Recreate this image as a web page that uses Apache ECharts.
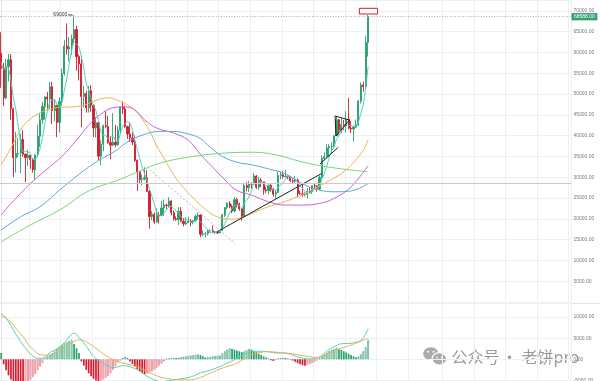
<!DOCTYPE html>
<html><head><meta charset="utf-8">
<script src="https://cdn.jsdelivr.net/npm/echarts@6/dist/echarts.min.js"></script>
<style>html,body{margin:0;padding:0;background:#fff}#c{width:600px;height:381px}</style>
</head><body><div id="c"></div>
<script>
// ---------- data ----------
const SLOTS = 235; // weekly slots on the time axis (data + empty future space)
const START = Date.UTC(2021, 3, 12);
const categories = Array.from({length: SLOTS}, (_, i) => new Date(START + i * 7 * 864e5).toISOString().slice(0, 10));
const quarterLines = [12, 25, 38, 51, 64, 77, 90, 103, 116, 129, 142, 155, 168, 182, 195, 208, 221, 234];

const opens = [59800,56150,49050,56600,58250,46430,34650,35680,35800,39100,
35500,34700,35290,34250,31780,35400,39850,43800,47000,49300,
48800,51750,46000,47250,43170,48200,54950,61530,60850,61300,
63270,65500,59000,57250,49400,50100,46700,50800,47300,41850,
43100,35050,37900,42400,42200,38350,37700,38400,37800,41300,
46850,46400,42150,40400,39450,38450,34050,31300,29450,29500,
29900,26600,20550,21050,19300,20850,20800,22600,23300,23200,
24300,21500,20000,19800,21800,19400,18800,19050,19450,19200,
19550,20600,20900,16300,16350,16450,17100,17150,16750,16850,
16600,17150,20900,22700,23750,22950,21850,24600,23500,22400,
20600,28000,27500,28450,28350,30300,27600,29250,28900,26900,
26750,28050,27100,25900,26350,30450,30600,30150,30250,30050,
29200,29050,29300,26100,26000,25850,25900,26550,26500,27950,
27900,27150,29950,34500,35000,37050,37350,37450,39950,43800,
41350,42650,42300,43950,41750,41600,42050,42600,48300,52150,
51750,62400];
const closes = [56150,49050,56600,58250,46430,34650,35680,35800,39100,35500,
34700,35290,34250,31780,35400,39850,43800,47000,49300,48800,
51750,46000,47250,43170,48200,54950,61530,60850,61300,63270,
65500,59000,57250,49400,50100,46700,50800,47300,41850,43100,
35050,37900,42400,42200,38350,37700,38400,37800,41300,46850,
46400,42150,40400,39450,38450,34050,31300,29450,29500,29900,
26600,20550,21050,19300,20850,20800,22600,23300,23200,24300,
21500,20000,19800,21800,19400,18800,19050,19450,19200,19550,
20600,20900,16300,16350,16450,17100,17150,16750,16850,16600,
17150,20900,22700,23750,22950,21850,24600,23500,22400,20600,
28000,27500,28450,28350,30300,27600,29250,28900,26900,26750,
28050,27100,25900,26350,30450,30600,30150,30250,30050,29200,
29050,29300,26100,26000,25850,25900,26550,26500,27950,27900,
27150,29950,34500,35000,37050,37350,37450,39950,43800,41350,
42650,42300,43950,41750,41600,42050,42600,48300,52150,51750,
62400,68588];
const highs = [64850,57500,58450,59600,59600,46700,40900,39500,40500,41300,
35750,36600,35300,34600,35400,42600,45300,48100,49500,50500,
52900,52900,48850,47300,49200,56100,62900,67000,63700,64300,
69000,66400,59500,59200,51950,50800,51900,52100,47600,44450,
43500,38900,42650,45850,44750,39800,45400,42600,42300,47000,
48200,47200,42400,42950,40800,40000,34250,31300,30600,32400,
31700,26900,21850,21500,22500,21600,24300,24650,23600,25200,
24450,22000,20600,22800,22800,20200,20400,20500,19950,19700,
21000,21450,21050,17200,16800,17400,17450,18400,17050,16950,
17200,21250,22750,23950,24250,23450,25250,25050,23900,22600,
28400,28900,29150,28800,31000,30550,30050,29800,28900,27650,
28250,28450,27400,27000,31400,31300,31500,31800,30350,30050,
29750,30250,29700,26800,28150,26400,27450,27500,28000,28600,
28000,30400,35200,35950,38000,37950,38400,40000,44700,44000,
44300,43800,45900,49000,43550,42200,43850,48600,52800,52950,
64000,69000];
const lows = [51500,47050,48750,53000,43800,30000,31100,34800,31000,34900,
28800,32700,32000,31100,29300,34800,37300,42800,43900,46300,
46500,42800,43400,39600,40750,47200,54400,59500,57800,59400,
62300,55600,53250,42000,46800,45500,45550,45700,39650,39550,
34000,32900,36250,41750,38000,34300,37450,37150,37600,40500,
45200,41900,39200,38500,37700,33700,26700,28600,28000,29300,
26550,17600,19650,18800,19000,18900,20800,20700,22400,22700,
20800,19550,19500,18550,19300,18150,18500,19000,18200,18650,
19250,20050,15600,15800,15500,16000,16700,16550,16300,16350,
16550,17150,20400,22300,22550,21350,21550,22750,21950,19550,
20200,26600,26500,27200,28150,27150,26950,27650,25800,26150,
25900,26500,25350,24800,26250,29500,29700,29950,29500,28850,
28600,28700,25150,25800,25350,25350,24900,26150,25950,27200,
26550,26900,29650,34100,34550,34800,35650,36850,39950,40250,
40550,41300,40750,41500,40600,38550,41800,42250,47700,50550,
50900,59000];

// fast moving-average line (cyan), one value per week
const maFast = [57600,55900,56100,56000,53300,49000,46300,42200,38300,36100,
36200,36100,35800,34300,34300,35300,37000,39600,43100,45750,
48100,48600,48600,47400,47300,47900,51000,53700,57400,60400,
62500,62000,61300,58900,56250,52500,50850,48900,47350,45950,
43600,41000,40100,40100,39200,39700,39800,38900,38700,40400,
42150,42900,43400,43050,41400,38900,36700,34500,32500,30800,
29300,27200,25500,23500,21700,20500,20900,21400,22150,22800,
23000,22500,21800,21500,20500,20000,19800,19700,19200,19200,
19600,19900,19300,18700,18100,17400,16650,16750,16850,16900,
16900,17650,18850,20200,21500,22400,23200,23300,23100,22600,
23800,24400,25400,26600,28500,28400,28800,28900,28600,27900,
28000,27500,26900,26800,27600,28100,28700,29600,30300,30000,
29700,29600,28700,27900,27300,26600,26100,26200,26550,27000,
27200,27900,29500,30900,32700,34800,36300,37400,39100,40000,
41000,42000,42800,42400,42450,42300,42400,43300,45300,47400,
51400,56600];
// slower averages, read as [week, value] points
const maOrange = [[0,33000],[4,37000],[8,41500],[12,44000],[16,45500],[20,46300],[24,46800],[29,46900],[34,47300],[39,48500],[44,49100],[49,48200],[53,47000],[57,44800],[61,41200],[64,37500],[67,34600],[71,30500],[75,27500],[79,25000],[83,22800],[87,21000],[91,20100],[95,19900],[99,20300],[104,21500],[109,22700],[115,23800],[122,25300],[129,27300],[133,28500],[140,30900],[145,33500],[149,36500],[151,39000]];
const maMagenta = [[0,20900],[4,23700],[8,26100],[12,28500],[20,32500],[25,35000],[31,38900],[36,42500],[42,45600],[47,46800],[51,46900],[55,46200],[59,43800],[64,41800],[71,40600],[77,38900],[82,35500],[88,31800],[93,28800],[97,26800],[103,25700],[110,24100],[117,23300],[124,23300],[131,23700],[137,24900],[144,27700],[151,32800]];
const maBlue = [[0,17300],[8,20500],[16,22900],[24,26900],[32,30700],[40,34000],[47,36300],[52,38500],[59,40300],[65,41000],[71,41000],[77,40400],[82,39300],[86,37200],[91,35000],[97,33600],[103,33000],[110,32000],[117,30800],[124,28400],[131,26900],[137,26500],[144,26700],[151,28500]];
const maGreen = [[0,14500],[12,18500],[24,22100],[36,26700],[49,29500],[57,31500],[66,33500],[79,35000],[92,35800],[103,36000],[113,35400],[123,33800],[131,32800],[144,31700],[151,31300]];

// MACD panel
const macdHist = [1500,-1200,-2600,-3800,-4800,-5600,-6200,-6700,-7000,-7200,
-6300,-5400,-4900,-4200,-3500,-2600,-1700,-900,300,700,
1100,1500,2000,2500,3000,3400,3800,4100,4400,4600,
3600,2600,1500,-500,-1500,-2500,-3300,-4000,-4600,-5000,
-5400,-5100,-4800,-4400,-3900,-3300,-2500,-1700,-800,-300,
400,600,300,-500,-1100,-1700,-2300,-2800,-3200,-3500,
-3400,-3200,-2900,-2500,-2000,-1500,-1000,-500,100,200,
300,400,300,400,500,600,700,800,900,1000,
1100,1200,1000,700,400,500,600,700,800,850,
900,1400,1900,2300,2600,2500,2300,2100,1900,1700,
1900,2200,2500,2300,2000,1700,1300,1000,700,400,
200,-200,-400,-200,200,300,350,300,200,-100,
-300,-600,-900,-1200,-1400,-1500,-1300,-1100,-900,-600,
-300,300,700,1200,1600,2000,2300,2500,2700,2500,
2200,1900,1600,1300,1000,700,500,700,1200,1900,
2900,4600];
const dif = [[0,10900],[2,9800],[4,8000],[6,6000],[8,4200],[10,2600],[12,1300],[14,400],[16,200],[18,500],[20,1600],[23,2500],[25,3400],[27,4600],[29,6000],[30,6200],[32,5200],[35,3100],[38,700],[41,-600],[44,-1500],[46,-2000],[48,-1800],[50,-1500],[52,-1600],[55,-2200],[57,-2900],[60,-4000],[63,-4900],[66,-5300],[70,-5000],[74,-4600],[78,-4200],[82,-3200],[86,-2600],[90,-1700],[93,-900],[96,-100],[99,900],[103,1800],[107,1900],[110,1800],[113,1500],[116,1500],[119,1200],[123,400],[127,100],[130,300],[132,900],[134,2000],[137,3000],[140,3700],[144,3800],[147,4200],[149,5000],[151,7300]];
const dea = [[0,10300],[3,9300],[5,8100],[7,6600],[9,5400],[11,3600],[13,2400],[16,1100],[20,1000],[24,2200],[28,3500],[31,4500],[33,4600],[35,4200],[39,2600],[43,900],[46,-100],[49,-700],[54,-1400],[57,-2000],[60,-2900],[63,-3700],[66,-4300],[71,-4800],[77,-4900],[82,-4300],[86,-3300],[90,-2300],[93,-1700],[96,-1200],[99,-200],[103,1000],[106,1600],[110,1800],[113,1700],[117,1500],[120,1300],[123,1000],[127,600],[130,450],[133,1000],[137,1900],[140,2600],[144,3400],[148,4300],[151,5000]];

// drawn annotations, [week, price]
const trendLow = [[88.9,16900],[131.9,30900]];
const trendHigh = [[131.2,33200],[138.7,37200]];
const triangle = [[137.4,44700],[143.3,43750],[137.8,39900],[137.4,44700]];
const dottedDown = [[59.9,32450],[96.2,14100]];
const peakDash = [[27.6,69000],[29.3,69000]];
const highBox = [[147.4,70600],[154.9,69235]];
const LAST_PRICE = 68588;
const REF_LEVEL = 28500;
const PEAK_LABEL = '69000';

// ---------- chart ----------
const G = '#26a06a', R = '#d71a2d';
const splitColor = '#ebf0f1';
const lblFont = 'Liberation Sans';
const axisLabel = {fontFamily: lblFont, fontSize: 5, color: '#7a7a7a', margin: 2.5, formatter: v => v.toFixed(2)};

const candleData = opens.map((o, i) => [o, closes[i], lows[i], highs[i]]);
const histData = macdHist.map((v, i) => {
  const prev = i > 0 ? macdHist[i - 1] : Infinity;
  const c = v >= 0 ? G : R;
  const hollow = v > prev;
  return {value: v, itemStyle: hollow
    ? {color: '#ffffff', borderColor: v >= 0 ? '#43a878' : '#e4707b', borderWidth: 0.7}
    : {color: c, borderWidth: 0}};
});

const catAxis = (g) => ({type: 'category', gridIndex: g, data: categories, boundaryGap: true,
  axisLine: {show: false}, axisTick: {show: false}, axisLabel: {show: false},
  splitLine: {show: true, interval: (i) => quarterLines.includes(i), lineStyle: {color: splitColor, width: 1}}});

const sparseLine = (data, color, xi, yi, extra) => Object.assign({type: 'line', xAxisIndex: xi, yAxisIndex: yi, data,
  smooth: 0.4, symbol: 'none', silent: true, lineStyle: {color, width: 1}}, extra || {});

const option = {
  animation: false,
  backgroundColor: '#ffffff',
  grid: [
    {left: 0, right: 29, top: 0, height: 302, outerBoundsMode: 'none', containLabel: false},
    {left: 0, right: 29, top: 303, height: 98.5, outerBoundsMode: 'none', containLabel: false}
  ],
  xAxis: [
    catAxis(0), catAxis(1),
    {type: 'value', gridIndex: 0, min: -0.5, max: SLOTS - 0.5, show: false},
    {type: 'value', gridIndex: 1, min: -0.5, max: SLOTS - 0.5, show: false}
  ],
  yAxis: [
    {type: 'value', gridIndex: 0, position: 'right', min: 0, max: 72600, interval: 5000,
      axisLine: {show: true, lineStyle: {color: '#e2e2e2'}}, axisTick: {show: false},
      axisLabel: Object.assign({}, axisLabel, {showMinLabel: false, showMaxLabel: false}),
      splitLine: {show: true, lineStyle: {color: splitColor}}},
    {type: 'value', gridIndex: 1, position: 'right', min: -10000, max: 13341, interval: 5000,
      axisLine: {show: true, lineStyle: {color: '#e2e2e2'}}, axisTick: {show: false},
      axisLabel: Object.assign({}, axisLabel, {showMaxLabel: false}),
      splitLine: {show: true, lineStyle: {color: splitColor}}}
  ],
  series: [
    {type: 'line', xAxisIndex: 0, yAxisIndex: 0, data: maFast, smooth: 0.25, symbol: 'none', silent: true,
      lineStyle: {color: '#52cfc3', width: 1}},
    sparseLine(maOrange, '#e8b65d', 2, 0),
    sparseLine(maMagenta, '#d45fd8', 2, 0),
    sparseLine(maBlue, '#5ca8e0', 2, 0),
    sparseLine(maGreen, '#7dd37d', 2, 0),
    {type: 'candlestick', xAxisIndex: 0, yAxisIndex: 0, data: candleData, barWidth: 1.7, silent: true,
      itemStyle: {color: G, color0: R, borderColor: G, borderColor0: R, borderWidth: 0.9},
      markLine: {symbol: ['none', 'none'], silent: true, animation: false,
        data: [
          {yAxis: LAST_PRICE, lineStyle: {type: [1, 1.6], color: '#94bdb1', width: 1},
            label: {show: true, position: 'end', distance: 0.5, formatter: LAST_PRICE.toFixed(2),
              backgroundColor: '#34a070', color: '#ffffff', fontSize: 5, fontFamily: lblFont, padding: [1.3, 2.5, 1, 2.5]}},
          {yAxis: REF_LEVEL, lineStyle: {type: 'solid', color: '#c9c9c9', width: 1}, label: {show: false}}
        ]}},
    sparseLine(trendLow, '#222', 2, 0, {smooth: false}),
    sparseLine(trendHigh, '#222', 2, 0, {smooth: false}),
    sparseLine(dottedDown, '#b5b5b5', 2, 0, {smooth: false, lineStyle: {color: '#b5b5b5', width: 1, type: [2, 2]}}),
    sparseLine(triangle, '#222', 2, 0, {smooth: false,
      markArea: {silent: true, itemStyle: {color: '#ffffff', borderColor: '#d3202f', borderWidth: 1},
        data: [[{coord: highBox[0]}, {coord: highBox[1]}]]}}),
    {type: 'line', xAxisIndex: 2, yAxisIndex: 0, silent: true, symbol: 'circle', symbolSize: 0.01,
      lineStyle: {color: '#333', width: 1}, itemStyle: {color: '#333'},
      data: [{value: peakDash[0], label: {show: true, position: 'left', distance: 1, formatter: PEAK_LABEL,
        fontSize: 5, color: '#333', fontFamily: lblFont}}, peakDash[1]]},
    {type: 'bar', xAxisIndex: 1, yAxisIndex: 1, data: histData, barWidth: 1.7, silent: true},
    sparseLine(dif, '#5ccfc2', 3, 1, {smooth: 0.35}),
    sparseLine(dea, '#e3b25b', 3, 1, {smooth: 0.35})
  ],
  graphic: [
    {type: 'line', silent: true, shape: {x1: 0, y1: 303.5, x2: 600, y2: 303.5}, style: {stroke: '#e4e4e4', lineWidth: 1}},
    {type: 'ellipse', silent: true, shape: {cx: 430.8, cy: 353.7, rx: 7.6, ry: 6.4}, style: {fill: '#ababab'}},
    {type: 'circle', silent: true, shape: {cx: 428, cy: 351.8, r: 1}, style: {fill: '#ffffff'}},
    {type: 'circle', silent: true, shape: {cx: 433.6, cy: 351.8, r: 1}, style: {fill: '#ffffff'}},
    {type: 'ellipse', silent: true, shape: {cx: 439.4, cy: 358.9, rx: 7.4, ry: 6.2}, style: {fill: '#ababab', stroke: '#ffffff', lineWidth: 1.3}},
    {type: 'circle', silent: true, shape: {cx: 437, cy: 357.6, r: 0.9}, style: {fill: '#ffffff'}},
    {type: 'circle', silent: true, shape: {cx: 441.8, cy: 357.6, r: 0.9}, style: {fill: '#ffffff'}},
    {type: 'text', silent: true, style: {text: '公众号', x: 451.5, y: 357, fontSize: 16, fontFamily: 'Noto Sans CJK SC',
      fill: '#999999', verticalAlign: 'middle', textBorderColor: '#ffffff', textBorderWidth: 1}},
    {type: 'text', silent: true, style: {text: '·', x: 509.5, y: 357, fontSize: 16, fontFamily: 'Noto Sans CJK SC',
      fill: '#999999', align: 'center', verticalAlign: 'middle'}},
    {type: 'text', silent: true, style: {text: '老饼pro', x: 521.5, y: 357, fontSize: 16, fontFamily: 'Noto Sans CJK SC',
      fill: '#999999', verticalAlign: 'middle', textBorderColor: '#ffffff', textBorderWidth: 1}}
  ]
};

const chart = echarts.init(document.getElementById('c'), null, {renderer: 'canvas', width: 600, height: 381});
chart.setOption(option);
</script>
</body></html>
